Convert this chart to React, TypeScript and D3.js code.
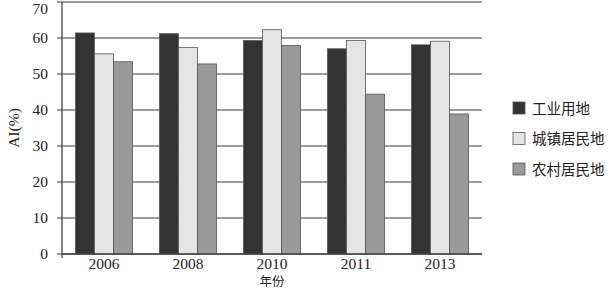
import React from "react";
import * as d3 from "d3";

const categories = ["2006", "2008", "2010", "2011", "2013"];
const seriesNames = ["工业用地", "城镇居民地", "农村居民地"];
const industrial = [61.4, 61.2, 59.3, 57.0, 58.1];
const urban = [55.6, 57.4, 62.3, 59.3, 59.1];
const rural = [53.4, 52.8, 57.9, 44.4, 38.9];
const yTicks = [0, 10, 20, 30, 40, 50, 60, 70];
const colors = ["#333333", "#e4e4e4", "#9a9a9a"];

export default function App() {
  const W = 608, H = 289;
  const left = 62, right = 482, top = 2, bottom = 254;
  const x = d3.scaleBand().domain(categories).range([left, right]).paddingInner(0.32).paddingOuter(0.16);
  const y = d3.scaleLinear().domain([0, 70]).range([bottom, top]);
  const series = [industrial, urban, rural];
  const xs = d3.scaleBand().domain(["0", "1", "2"]).range([0, x.bandwidth()]);
  const serif = "'Liberation Serif', 'Times New Roman', serif";
  const cjk = "'Noto Sans CJK SC', sans-serif";
  return (
    <svg width={W} height={H} style={{ position: "absolute", left: 0, top: 0, background: "#fff" }}>
      {yTicks.map((t) => (
        <g key={t}>
          <line x1={left - 5} x2={right} y1={y(t)} y2={y(t)} stroke="#7a7a7a" strokeWidth={1.3} />
          <text x={48} y={Math.max(y(t) + 5, 14)} textAnchor="end" fontFamily={serif} fontSize={15.5} fill="#222">{t}</text>
        </g>
      ))}
      {categories.map((c, i) => (
        <g key={c}>
          {series.map((s, j) => (
            <rect key={j} x={(x(c) as number) + (xs(String(j)) as number)} y={y(s[i])} width={xs.bandwidth()} height={bottom - y(s[i])}
              fill={colors[j]} stroke="#555" strokeWidth={0.8} />
          ))}
          <text x={(x(c) as number) + x.bandwidth() / 2} y={269} textAnchor="middle" fontFamily={serif} fontSize={15.5} fill="#222">{c}</text>
        </g>
      ))}
      <line x1={left} x2={left} y1={top} y2={bottom + 4} stroke="#444" strokeWidth={1.3} />
      <line x1={left} x2={right} y1={bottom} y2={bottom} stroke="#444" strokeWidth={1.3} />
      <text transform={`translate(19,${(top + bottom) / 2}) rotate(-90)`} textAnchor="middle" fontFamily={serif} fontSize={15.5} fill="#222">AI(%)</text>
      <text x={(left + right) / 2} y={286} textAnchor="middle" fontFamily={cjk} fontSize={12.5} fill="#222">年份</text>
      {seriesNames.map((n, j) => (
        <g key={n}>
          <rect x={513} y={102 + j * 30.5} width={12} height={12} fill={colors[j]} stroke="#555" strokeWidth={0.8} />
          <text x={532} y={113.5 + j * 30.5} fontFamily={cjk} fontSize={14.5} fill="#222">{n}</text>
        </g>
      ))}
    </svg>
  );
}
